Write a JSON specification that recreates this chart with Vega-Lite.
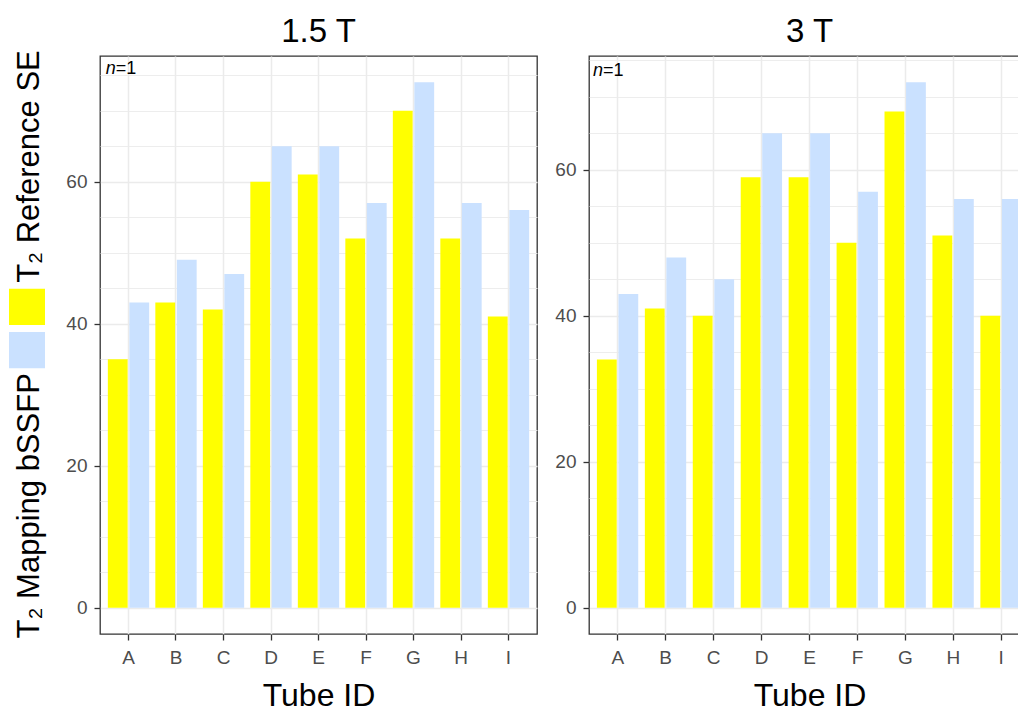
{
  "$schema": "https://vega.github.io/schema/vega-lite/v6.json",
  "padding": {"left": 9, "top": 15, "right": 0, "bottom": 0},
  "background": "white",
  "bounds": "flush",
  "spacing": 55,
  "datasets": {
    "t2": [
      {"field": "1.5 T", "tube": "A", "method": "T₂ Reference SE", "T2": 35},
      {"field": "1.5 T", "tube": "B", "method": "T₂ Reference SE", "T2": 43},
      {"field": "1.5 T", "tube": "C", "method": "T₂ Reference SE", "T2": 42},
      {"field": "1.5 T", "tube": "D", "method": "T₂ Reference SE", "T2": 60},
      {"field": "1.5 T", "tube": "E", "method": "T₂ Reference SE", "T2": 61},
      {"field": "1.5 T", "tube": "F", "method": "T₂ Reference SE", "T2": 52},
      {"field": "1.5 T", "tube": "G", "method": "T₂ Reference SE", "T2": 70},
      {"field": "1.5 T", "tube": "H", "method": "T₂ Reference SE", "T2": 52},
      {"field": "1.5 T", "tube": "I", "method": "T₂ Reference SE", "T2": 41},
      {"field": "1.5 T", "tube": "A", "method": "T₂ Mapping bSSFP", "T2": 43},
      {"field": "1.5 T", "tube": "B", "method": "T₂ Mapping bSSFP", "T2": 49},
      {"field": "1.5 T", "tube": "C", "method": "T₂ Mapping bSSFP", "T2": 47},
      {"field": "1.5 T", "tube": "D", "method": "T₂ Mapping bSSFP", "T2": 65},
      {"field": "1.5 T", "tube": "E", "method": "T₂ Mapping bSSFP", "T2": 65},
      {"field": "1.5 T", "tube": "F", "method": "T₂ Mapping bSSFP", "T2": 57},
      {"field": "1.5 T", "tube": "G", "method": "T₂ Mapping bSSFP", "T2": 74},
      {"field": "1.5 T", "tube": "H", "method": "T₂ Mapping bSSFP", "T2": 57},
      {"field": "1.5 T", "tube": "I", "method": "T₂ Mapping bSSFP", "T2": 56},
      {"field": "3 T", "tube": "A", "method": "T₂ Reference SE", "T2": 34},
      {"field": "3 T", "tube": "B", "method": "T₂ Reference SE", "T2": 41},
      {"field": "3 T", "tube": "C", "method": "T₂ Reference SE", "T2": 40},
      {"field": "3 T", "tube": "D", "method": "T₂ Reference SE", "T2": 59},
      {"field": "3 T", "tube": "E", "method": "T₂ Reference SE", "T2": 59},
      {"field": "3 T", "tube": "F", "method": "T₂ Reference SE", "T2": 50},
      {"field": "3 T", "tube": "G", "method": "T₂ Reference SE", "T2": 68},
      {"field": "3 T", "tube": "H", "method": "T₂ Reference SE", "T2": 51},
      {"field": "3 T", "tube": "I", "method": "T₂ Reference SE", "T2": 40},
      {"field": "3 T", "tube": "A", "method": "T₂ Mapping bSSFP", "T2": 43},
      {"field": "3 T", "tube": "B", "method": "T₂ Mapping bSSFP", "T2": 48},
      {"field": "3 T", "tube": "C", "method": "T₂ Mapping bSSFP", "T2": 45},
      {"field": "3 T", "tube": "D", "method": "T₂ Mapping bSSFP", "T2": 65},
      {"field": "3 T", "tube": "E", "method": "T₂ Mapping bSSFP", "T2": 65},
      {"field": "3 T", "tube": "F", "method": "T₂ Mapping bSSFP", "T2": 57},
      {"field": "3 T", "tube": "G", "method": "T₂ Mapping bSSFP", "T2": 72},
      {"field": "3 T", "tube": "H", "method": "T₂ Mapping bSSFP", "T2": 56},
      {"field": "3 T", "tube": "I", "method": "T₂ Mapping bSSFP", "T2": 56}
    ],
    "legend": [
      {"method": "T₂ Reference SE"},
      {"method": "T₂ Mapping bSSFP"}
    ],
    "note": [
      {"n": "n", "rest": "=1"}
    ]
  },
  "hconcat": [
    {
      "width": 36,
      "height": 578,
      "view": {"stroke": null},
      "data": {"name": "legend"},
      "layer": [
        {
          "mark": {"type": "rect"},
          "encoding": {
            "y": {"field": "method", "type": "nominal", "scale": {"domain": ["T₂ Reference SE", "T₂ Mapping bSSFP"], "range": [232.7, 312.3], "paddingInner": 0.162, "paddingOuter": 0}, "axis": null},
            "x": {"value": 0},
            "x2": {"value": "width"},
            "color": {"field": "method", "type": "nominal", "scale": {"domain": ["T₂ Reference SE", "T₂ Mapping bSSFP"], "range": ["#FFFF00", "#CAE1FF"]}, "legend": null}
          }
        },
        {
          "transform": [{"filter": "datum.method === 'T₂ Reference SE'"}],
          "mark": {"type": "text", "angle": 270, "align": "left", "baseline": "alphabetic", "font": "Liberation Sans", "fontSize": 31, "color": "#000000", "yOffset": -24, "x": 30},
          "encoding": {
            "y": {"field": "method", "type": "nominal", "axis": null},
            "text": {"field": "method"}
          }
        },
        {
          "transform": [{"filter": "datum.method === 'T₂ Mapping bSSFP'"}],
          "mark": {"type": "text", "angle": 270, "align": "right", "baseline": "alphabetic", "font": "Liberation Sans", "fontSize": 31, "color": "#000000", "yOffset": 23, "x": 30},
          "encoding": {
            "y": {"field": "method", "type": "nominal", "axis": null},
            "text": {"field": "method"}
          }
        }
      ]
    },
    {
      "spacing": 52,
      "bounds": "flush",
      "hconcat": [
        {
          "width": 437,
          "height": 578,
          "title": {"text": "1.5 T"},
          "layer": [
            {
              "data": {"name": "t2"},
              "transform": [{"filter": "datum.field === '1.5 T'"}],
              "mark": {"type": "bar"},
              "encoding": {
                "x": {"field": "tube", "type": "nominal", "title": "Tube ID", "scale": {"paddingInner": 0.13, "paddingOuter": 0.165}},
                "xOffset": {"field": "method", "type": "nominal", "scale": {"domain": ["T₂ Reference SE", "T₂ Mapping bSSFP"], "paddingInner": 0.08, "paddingOuter": 0}},
                "y": {"field": "T2", "type": "quantitative", "stack": null, "scale": {"domain": [-3.7, 77.7], "nice": false, "zero": false}},
                "y2": {"datum": 0},
                "color": {"field": "method", "type": "nominal", "scale": {"domain": ["T₂ Reference SE", "T₂ Mapping bSSFP"], "range": ["#FFFF00", "#CAE1FF"]}, "legend": null}
              }
            },
            {
              "data": {"name": "note"},
              "mark": {"type": "text", "font": "Liberation Sans", "fontSize": 18, "fontStyle": "italic", "align": "left", "baseline": "alphabetic", "color": "#000000", "dx": -2},
              "encoding": {
                "x": {"datum": "A", "type": "nominal", "bandPosition": 0},
                "y": {"datum": 75.1, "type": "quantitative"},
                "text": {"field": "n"}
              }
            },
            {
              "data": {"name": "note"},
              "mark": {"type": "text", "font": "Liberation Sans", "fontSize": 18, "align": "left", "baseline": "alphabetic", "color": "#000000", "dx": 8},
              "encoding": {
                "x": {"datum": "A", "type": "nominal", "bandPosition": 0},
                "y": {"datum": 75.1, "type": "quantitative"},
                "text": {"field": "rest"}
              }
            }
          ]
        },
        {
          "width": 441,
          "height": 578,
          "title": {"text": "3 T"},
          "layer": [
            {
              "data": {"name": "t2"},
              "transform": [{"filter": "datum.field === '3 T'"}],
              "mark": {"type": "bar"},
              "encoding": {
                "x": {"field": "tube", "type": "nominal", "title": "Tube ID", "scale": {"paddingInner": 0.13, "paddingOuter": 0.165}},
                "xOffset": {"field": "method", "type": "nominal", "scale": {"domain": ["T₂ Reference SE", "T₂ Mapping bSSFP"], "paddingInner": 0.08, "paddingOuter": 0}},
                "y": {"field": "T2", "type": "quantitative", "stack": null, "scale": {"domain": [-3.6, 75.6], "nice": false, "zero": false}},
                "y2": {"datum": 0},
                "color": {"field": "method", "type": "nominal", "scale": {"domain": ["T₂ Reference SE", "T₂ Mapping bSSFP"], "range": ["#FFFF00", "#CAE1FF"]}, "legend": null}
              }
            },
            {
              "data": {"name": "note"},
              "mark": {"type": "text", "font": "Liberation Sans", "fontSize": 18, "fontStyle": "italic", "align": "left", "baseline": "alphabetic", "color": "#000000", "dx": -4},
              "encoding": {
                "x": {"datum": "A", "type": "nominal", "bandPosition": 0},
                "y": {"datum": 72.9, "type": "quantitative"},
                "text": {"field": "n"}
              }
            },
            {
              "data": {"name": "note"},
              "mark": {"type": "text", "font": "Liberation Sans", "fontSize": 18, "align": "left", "baseline": "alphabetic", "color": "#000000", "dx": 6},
              "encoding": {
                "x": {"datum": "A", "type": "nominal", "bandPosition": 0},
                "y": {"datum": 72.9, "type": "quantitative"},
                "text": {"field": "rest"}
              }
            }
          ]
        }
      ]
    }
  ],
  "config": {
    "font": "Liberation Sans",
    "view": {"stroke": "#333333", "strokeWidth": 1.3},
    "title": {"font": "Liberation Sans", "fontSize": 33, "fontWeight": "normal", "color": "#000000", "baseline": "alphabetic", "offset": 7, "anchor": "middle"},
    "axis": {
      "labelFont": "Liberation Sans",
      "labelFontSize": 19,
      "labelColor": "#4D4D4D",
      "tickColor": "#333333",
      "tickSize": 6,
      "tickWidth": 1.3,
      "domain": false,
      "gridColor": "#EBEBEB",
      "titleFont": "Liberation Sans",
      "titleFontSize": 32,
      "titleColor": "#000000",
      "titleFontWeight": "normal"
    },
    "axisX": {"labelAngle": 0, "labelPadding": 8, "titlePadding": 13, "grid": true, "gridWidth": 1.5},
    "axisY": {
      "values": [0, 10, 20, 30, 40, 50, 60, 70],
      "labelExpr": "datum.value % 20 === 0 ? datum.label : ''",
      "tickOpacity": {"expr": "datum.value % 20 === 0 ? 1 : 0"},
      "gridWidth": {"expr": "datum.value % 20 === 0 ? 1.5 : 0.9"},
      "grid": true,
      "title": null,
      "labelPadding": 7
    }
  }
}
